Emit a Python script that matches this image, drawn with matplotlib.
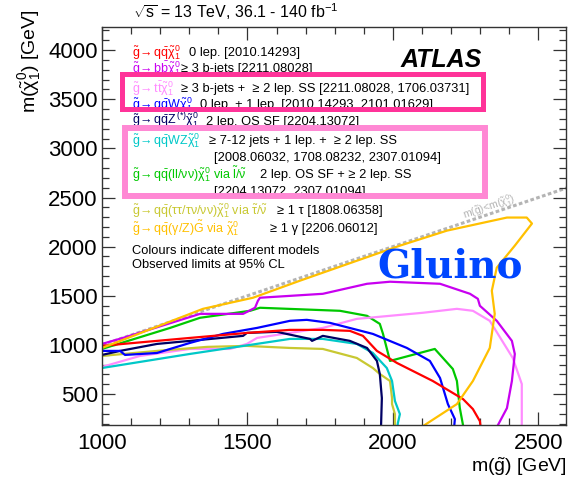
import matplotlib
matplotlib.use("Agg")
import matplotlib.pyplot as plt
from matplotlib.patches import Rectangle
from matplotlib.ticker import MultipleLocator

plt.rcParams['font.family'] = ['Liberation Sans', 'DejaVu Sans']
plt.rcParams['mathtext.fontset'] = 'custom'
plt.rcParams['mathtext.rm'] = 'Liberation Sans'
plt.rcParams['mathtext.it'] = 'Liberation Sans'
plt.rcParams['mathtext.bf'] = 'Liberation Sans:bold'

# ---------------- data (m(gluino), m(chi10)) in GeV ----------------
qq_mg   = [1000, 1072, 1302, 1498, 1646, 1759, 1852, 1897, 1945, 2014, 2137, 2241, 2275, 2299, 2302]
qq_mchi = [990, 1010, 1071, 1122, 1153, 1153, 1143, 1092, 939, 816, 633, 449, 347, 224, 150]

bb_mg   = [1000, 1072, 1337, 1485, 1526, 1536, 1543, 1759, 1911, 1990, 2162, 2265, 2292, 2299, 2357, 2409, 2419, 2409, 2392, 2361, 2355]
bb_mchi = [1010, 1071, 1316, 1316, 1378, 1449, 1480, 1520, 1622, 1643, 1622, 1520, 1469, 1398, 1245, 1041, 908, 633, 357, 184, 150]

tt_mg   = [1000, 1131, 1302, 1440, 1498, 1533, 1646, 1759, 1876, 2103, 2220, 2275, 2333, 2412, 2443, 2443]
tt_mchi = [776, 888, 959, 959, 1010, 1071, 1122, 1173, 1265, 1327, 1367, 1347, 1245, 867, 602, 150]

qqW_mg   = [1000, 1062, 1079, 1189, 1302, 1416, 1533, 1646, 1704, 1784, 1931, 2048, 2127, 2162, 2189, 2213, 2210]
qqW_mchi = [939, 939, 898, 918, 1020, 1112, 1173, 1245, 1255, 1224, 1112, 969, 837, 663, 398, 245, 150]

qqZ_mg   = [1000, 1062, 1189, 1302, 1485, 1498, 1601, 1715, 1722, 1759, 1852, 1911, 1945, 1955, 1962, 1959]
qqZ_mchi = [898, 939, 1010, 1041, 1092, 1122, 1133, 1061, 1041, 1092, 1041, 969, 837, 704, 459, 150]

qqWZ_mg   = [1000, 1302, 1646, 1759, 1876, 1931, 1979, 1997, 2007, 2024, 2017, 2015]
qqWZ_mchi = [765, 908, 1061, 1061, 1010, 918, 765, 633, 429, 296, 204, 150]

qqll_mg   = [1000, 1234, 1337, 1509, 1543, 1818, 1911, 1955, 1966, 1990, 2144, 2206, 2220, 2230, 2241, 2243]
qqll_mchi = [959, 1173, 1276, 1347, 1378, 1347, 1296, 1214, 1112, 837, 959, 755, 633, 357, 184, 150]

qqtau_mg   = [1000, 1189, 1361, 1498, 1646, 1759, 1876, 1931, 1955, 1990, 1997, 1997, 2007, 2007]
qqtau_mchi = [888, 939, 980, 990, 969, 959, 867, 765, 704, 633, 459, 398, 296, 150]

gmsb_mg   = [1000, 1347, 1519, 1680, 2024, 2186, 2392, 2460, 2478, 2419, 2357, 2340, 2350, 2333, 2275, 2220, 2103, 2080]
gmsb_mchi = [969, 1367, 1480, 1653, 2010, 2163, 2296, 2296, 2235, 2010, 1786, 1551, 1316, 969, 633, 398, 173, 150]

diag = [1000, 2700]

series = [
    (qqll_mg, qqll_mchi, '#00c800'),
    (tt_mg, tt_mchi, '#ff8cff'),
    (bb_mg, bb_mchi, '#c800f0'),
    (qqtau_mg, qqtau_mchi, '#c8c832'),
    (qqWZ_mg, qqWZ_mchi, '#00c8c8'),
    (qqZ_mg, qqZ_mchi, '#000064'),
    (qqW_mg, qqW_mchi, '#0000ff'),
    (qq_mg, qq_mchi, '#ff0000'),
    (gmsb_mg, gmsb_mchi, '#ffc000'),
]

# legend entries: (model text, description, colour)
legend_rows = [
    (r'$\tilde{g}\!\rightarrow q\bar{q}\tilde{\chi}^{0}_{1}$', '0 lep. [2010.14293]', '#ff0000'),
    (r'$\tilde{g}\!\rightarrow b\bar{b}\tilde{\chi}^{0}_{1}$', '≥ 3 b-jets [2211.08028]', '#c800f0'),
    (r'$\tilde{g}\!\rightarrow t\bar{t}\tilde{\chi}^{0}_{1}$', '≥ 3 b-jets +  ≥ 2 lep. SS [2211.08028, 1706.03731]', '#ff8cff'),
    (r'$\tilde{g}\!\rightarrow q\bar{q}W\tilde{\chi}^{0}_{1}$', '0 lep. + 1 lep. [2010.14293, 2101.01629]', '#0000ff'),
    (r'$\tilde{g}\!\rightarrow q\bar{q}Z^{(*)}\tilde{\chi}^{0}_{1}$', '2 lep. OS SF [2204.13072]', '#000064'),
    (r'$\tilde{g}\!\rightarrow q\bar{q}WZ\tilde{\chi}^{0}_{1}$', '≥ 7-12 jets + 1 lep. +  ≥ 2 lep. SS', '#00c8c8'),
    (None, '[2008.06032, 1708.08232, 2307.01094]', None),
    (r'$\tilde{g}\!\rightarrow q\bar{q}(ll/\nu\nu)\tilde{\chi}^{0}_{1}$ via $\tilde{l}/\tilde{\nu}$', '2 lep. OS SF + ≥ 2 lep. SS', '#00c800'),
    (None, '[2204.13072, 2307.01094]', None),
    (r'$\tilde{g}\!\rightarrow q\bar{q}(\tau\tau/\tau\nu/\nu\nu)\tilde{\chi}^{0}_{1}$ via $\tilde{\tau}/\tilde{\nu}$', '≥ 1 τ [1808.06358]', '#c8c832'),
    (r'$\tilde{g}\!\rightarrow q\bar{q}(\gamma/Z)\tilde{G}$ via $\tilde{\chi}^{0}_{1}$', '≥ 1 γ [2206.06012]', '#ffc000'),
]

# ---------------- figure ----------------
W, H = 571, 480
fig = plt.figure(figsize=(W / 100, H / 100), dpi=100)
ax = fig.add_axes([102 / W, 1 - 425 / H, (566 - 102) / W, (425 - 27) / H])

ax.plot(diag, diag, color='#b4b4b4', lw=2.2, ls=(0, (1.2, 0.8)), zorder=1)
for xs, ys, c in series:
    ax.plot(xs, ys, color=c, lw=1.6, zorder=2, solid_joinstyle='round')

ax.set_xlim(1000, 2595)
ax.set_ylim(185, 4235)
ax.xaxis.set_major_locator(MultipleLocator(500))
ax.xaxis.set_minor_locator(MultipleLocator(100))
ax.yaxis.set_major_locator(MultipleLocator(500))
ax.yaxis.set_minor_locator(MultipleLocator(100))
ax.tick_params(which='both', direction='in', top=True, right=True, width=0.9, color='#333333')
ax.tick_params(which='major', length=9.5, labelsize=16)
ax.tick_params(which='minor', length=5)
ax.tick_params(axis='x', which='major', pad=6)
ax.tick_params(axis='y', which='major', pad=3)
for s in ax.spines.values():
    s.set_linewidth(1.0)
    s.set_color('#333333')


def P(x, y):
    return (x / W, 1 - y / H)


fig.text(*P(567, 472), r'm($\tilde{g}$) [GeV]', ha='right', va='baseline', fontsize=14)
fig.text(*P(30, 9), r'm($\tilde{\chi}^{0}_{1}$) [GeV]', ha='center', va='top', rotation=90, fontsize=14)
fig.text(*P(133, 18), r'$\sqrt{\mathrm{s}}$ = 13 TeV, 36.1 - 140 fb$^{-1}$', ha='left', va='baseline', fontsize=11.5)

fig.text(*P(482, 67), 'ATLAS', ha='right', va='baseline', fontsize=18, fontweight='bold',
         fontstyle='italic')

# legend text
row_y = [56, 72, 92, 108, 125, 144, 161, 178, 195, 214, 232]
desc_x = [189, 181, 181, 200, 206, 209, 214, 260, 214, 277, 270]
for (model, desc, col), y, dx in zip(legend_rows, row_y, desc_x):
    if model is not None:
        fig.text(*P(132, y), model, color=col, ha='left', va='baseline', fontsize=9)
    fig.text(*P(dx, y), desc, color='black', ha='left', va='baseline', fontsize=9.3)

fig.text(*P(132, 254), 'Colours indicate different models', ha='left', va='baseline', fontsize=9.3)
fig.text(*P(132, 268), 'Observed limits at 95% CL', ha='left', va='baseline', fontsize=9.3)

# highlight boxes
fig.add_artist(Rectangle(P(121.5, 108.5), (482.5 - 121.5) / W, (108.5 - 73.5) / H,
                         transform=fig.transFigure, fill=False, ec='#ff3399', lw=3.6, zorder=5))
fig.add_artist(Rectangle(P(125, 196), (485 - 125) / W, (196 - 128) / H,
                         transform=fig.transFigure, fill=False, ec='#ff88d4', lw=4.3, zorder=5))

ax.text(2330, 2395, r'm($\tilde{g}$)<m($\tilde{\chi}^{0}_{1}$)', color='#b4b4b4', fontsize=7.5,
        rotation=18.6, ha='center', va='center', zorder=3)

fig.text(*P(450, 267), 'Gluino', color='#0046ff', fontsize=28, fontweight='bold',
         family='DejaVu Serif', ha='center', va='center', zorder=10)

fig.savefig('out.png', dpi=100)
